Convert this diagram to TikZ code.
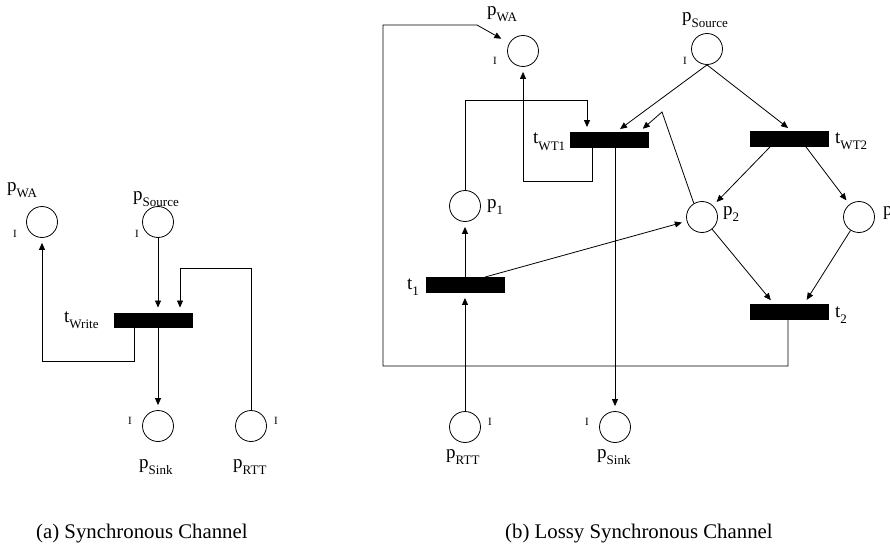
\documentclass[tikz,border=0pt]{standalone}
\usepackage{fontspec}
\setmainfont{Liberation Serif}
\usetikzlibrary{arrows.meta}
\newcommand{\lbl}[2]{\fontsize{19}{19}\selectfont #1\raisebox{-6pt}{\fontsize{13}{13}\selectfont #2}}
\begin{document}
\begin{tikzpicture}[x=1pt,y=-1pt,
  place/.style={circle,draw,line width=0.8pt,minimum size=31pt,inner sep=0pt},
  trans/.style={rectangle,fill=black,minimum width=79pt,minimum height=15.5pt,inner sep=0pt},
  lab/.style={anchor=base west,inner sep=0pt},
  ilab/.style={anchor=base west,inner sep=0pt,font=\fontsize{11}{11}\selectfont},
  captext/.style={anchor=base west,inner sep=0pt,font=\fontsize{20.8}{24}\selectfont},
  arc/.style={line width=0.8pt,-{Triangle[length=7pt,width=6pt]},shorten >=5pt}]
\useasboundingbox (0,0) rectangle (890,548);

% ---------- (a) ----------
\node[place] (wa) at (42,222) {};
\node[place] (src) at (158,222) {};
\node[trans] (tw) at (153,320.5) {};
\node[place] (sink) at (158,426) {};
\node[place] (rtt) at (251,426) {};

\coordinate (ca1) at (180,268);
\coordinate (ca2) at (134,361);
\draw[arc] (src.south) -- (src |- tw.north);
\draw[arc] (rtt.north) |- (ca1) -- (ca1 |- tw.north);
\draw[arc] (tw.south -| ca2) -- (ca2) -| (wa.south);
\draw[arc] (tw.south -| sink) -- (sink.north);

\node[lab] (lwa) at (7,191) {\lbl{p}{WA}};
\node[lab] (lsrc) at (133,200) {\lbl{p}{Source}};
\node[lab] (ltw) at (64,322) {\lbl{t}{Write}};
\node[lab] (lsink) at (139,468) {\lbl{p}{Sink}};
\node[lab] (lrtt) at (233,468) {\lbl{p}{RTT}};
\node[ilab] (iwa) at (13,237) {I};
\node[ilab] (isrc) at (135,237) {I};
\node[ilab] (isink) at (128,424) {I};
\node[ilab] (irtt) at (274,424) {I};

\node[captext] (capa) at (36,538) {(a) Synchronous Channel};

% ---------- (b) ----------
\node[place] (wa2) at (523,51) {};
\node[place] (src2) at (707,49) {};
\node[trans] (wt1) at (609,140) {};
\node[trans] (wt2) at (789,139) {};
\node[place] (p1) at (465,206) {};
\node[place] (p2) at (702,217) {};
\node[place] (p3) at (859,217) {};
\node[trans] (t1) at (465,285) {};
\node[trans] (t2) at (789,312) {};
\node[place] (rtt2) at (465,427) {};
\node[place] (sink2) at (615,427) {};

\coordinate (b1) at (788,366);
\coordinate (b2) at (383,25);
\coordinate (b3) at (477,25);
\coordinate (c1) at (587,100);
\coordinate (c2) at (592,181);
\coordinate (c3) at (662,112);

\draw[arc,shorten >=9pt] (t2.south -| b1) -- (b1) -| (b2) -- (b3) -- (wa2);
\draw[arc] (p1.north) |- (c1) -- (c1 |- wt1.north);
\draw[arc] (wt1.south -| c2) -- (c2) -| (wa2.south);
\draw[arc] (wt1.south -| sink2) -- (sink2.north);
\draw[arc] (rtt2.north) -- (rtt2 |- t1.south);
\draw[arc] (t1.north) -- (p1.south);
\draw[arc] ([xshift=20pt]t1.north) -- (p2);
\draw[arc] (src2.south) -- ([xshift=7pt]wt1.north);
\draw[arc] (src2.south) -- ([xshift=3pt]wt2.north);
\draw[arc] (p2.121) -- (c3) -- ([xshift=30pt]wt1.north);
\draw[arc] ([xshift=-19pt]wt2.south) -- (p2);
\draw[arc] ([xshift=17pt]wt2.south) -- (p3);
\draw[arc] (p2) -- ([xshift=-15pt]t2.north);
\draw[arc] (p3) -- ([xshift=15pt]t2.north);

\node[lab] (lwa2) at (487,16) {\lbl{p}{WA}};
\node[lab] (lsrc2) at (682,21.5) {\lbl{p}{Source}};
\node[ilab] (iwa2) at (493,65) {I};
\node[ilab] (isrc2) at (683,65) {I};
\node[lab] (lwt1) at (533,144) {\lbl{t}{WT1}};
\node[lab] (lwt2) at (835,143) {\lbl{t}{WT2}};
\node[lab] (lp1) at (487,208.5) {\lbl{p}{1}};
\node[lab] (lp2) at (723,215.5) {\lbl{p}{2}};
\node[lab] (lp3) at (883,215.5) {\lbl{p}{3}};
\node[lab] (lt1) at (407,289) {\lbl{t}{1}};
\node[lab] (lt2) at (835,317) {\lbl{t}{2}};
\node[lab] (lrtt2) at (446,458.5) {\lbl{p}{RTT}};
\node[lab] (lsink2) at (597,458.5) {\lbl{p}{Sink}};
\node[ilab] (irtt2) at (488,425) {I};
\node[ilab] (isink2) at (585,425) {I};

\node[captext] (capb) at (505,538) {(b) Lossy Synchronous Channel};
\end{tikzpicture}
\end{document}
